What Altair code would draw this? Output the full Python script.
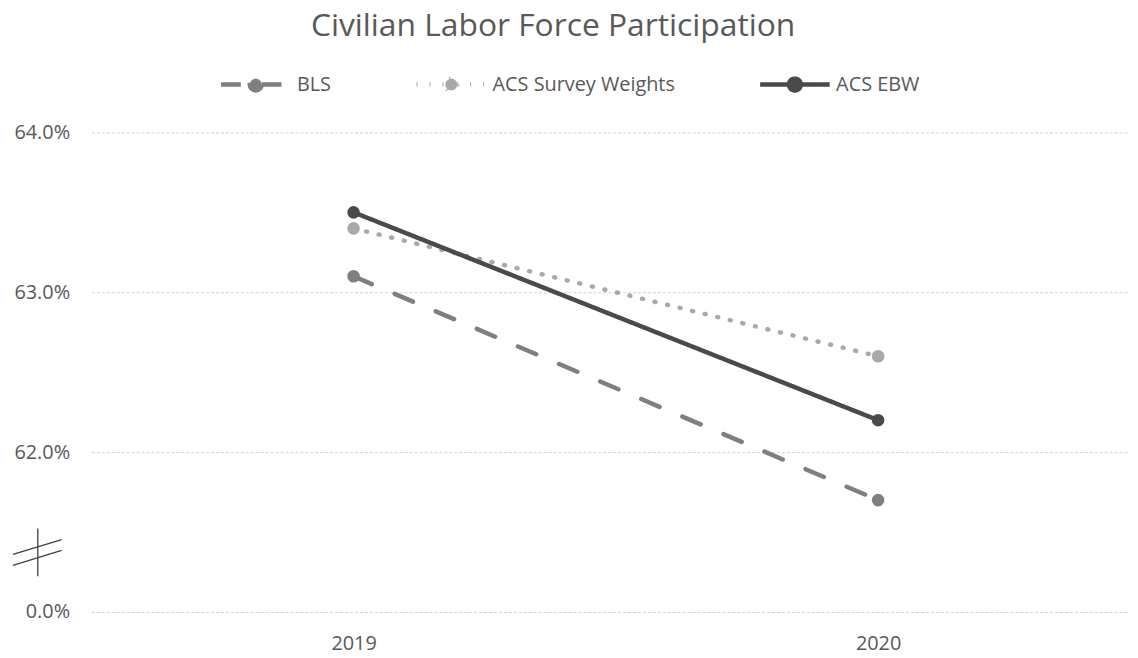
import altair as alt
import pandas as pd

# ---- data ----
years = ["2019", "2020"]
series = ["BLS", "ACS Survey Weights", "ACS EBW"]
bls = [63.1, 61.7]
acs_survey_weights = [63.4, 62.6]
acs_ebw = [63.5, 62.2]
y_ticks = [61, 62, 63, 64]          # 61 is shown as the broken-axis "0.0%" level
y_break_label = "0.0%"
title_text = "Civilian Labor Force Participation"

# ---- styles ----
colors = ["#7f7f7f", "#a9a9a9", "#4a4a4a"]
dashes = [[20, 25], [1, 12], [1, 0]]
FONT = "Open Sans"
TEXT = "#595959"
GRID = "#cfcdf0"

rows = []
for name, vals in zip(series, [bls, acs_survey_weights, acs_ebw]):
    for yr, v in zip(years, vals):
        rows.append({"year": yr, "series": name, "value": v})
df = pd.DataFrame(rows)

W, H = 1046, 483
sym = "M-1,0L-0.17,0M0.17,0L1,0M0.17,0A0.17,0.17,0,1,1,-0.17,0A0.17,0.17,0,1,1,0.17,0Z"

legend = alt.Legend(
    title=None, orient="none", legendX=128, legendY=-86, direction="horizontal",
    symbolType=sym, symbolSize=4900, symbolStrokeWidth=4.5,
    labelFont=FONT, labelFontSize=20, labelColor=TEXT, labelLimit=0,
    columnPadding=76, labelOffset=4,
)

x = alt.X(
    "year:N", sort=years, title=None,
    scale=alt.Scale(type="point", domain=years, padding=0.49, align=0.51),
    axis=alt.Axis(labelFont=FONT, labelFontSize=20, labelColor=TEXT, labelAngle=0,
                  domain=False, ticks=False, labelPadding=22, grid=False),
)
y = alt.Y(
    "value:Q", title=None,
    scale=alt.Scale(domain=[y_ticks[0], y_ticks[-1]], zero=False, nice=False),
    axis=alt.Axis(values=y_ticks, labelFont=FONT, labelFontSize=20, labelColor=TEXT,
                  domain=False, ticks=False, labelPadding=22,
                  labelExpr=f"datum.value == {y_ticks[0]} ? '{y_break_label}' : format(datum.value / 100, '.1%')",
                  grid=True, gridColor=GRID, gridDash=[3, 2], gridWidth=1),
)
color = alt.Color("series:N", sort=series,
                  scale=alt.Scale(domain=series, range=colors), legend=legend)
dash = alt.StrokeDash("series:N", sort=series,
                      scale=alt.Scale(domain=series, range=dashes), legend=legend)

base = alt.Chart(df)
points = base.mark_point(filled=True, size=160, opacity=1).encode(x=x, y=y, color=color)
lines = base.mark_line(strokeWidth=4.5, strokeCap="round").encode(
    x=x, y=y, color=color, strokeDash=dash, detail="series:N")

brk = alt.Chart(pd.DataFrame({"k": [0]}))
brk_color = "#404040"
vbar = brk.mark_rule(color=brk_color, strokeWidth=1.3).encode(
    x=alt.value(-54), y=alt.value(399), y2=alt.value(447))
s1 = brk.mark_rule(color=brk_color, strokeWidth=1.3).encode(
    x=alt.value(-79), x2=alt.value(-30), y=alt.value(425), y2=alt.value(410))
s2 = brk.mark_rule(color=brk_color, strokeWidth=1.3).encode(
    x=alt.value(-79), x2=alt.value(-30), y=alt.value(436), y2=alt.value(421))

chart = alt.layer(lines, points, vbar, s1, s2).properties(
    width=W, height=H,
    autosize=alt.AutoSizeParams(type="none"),
    padding={"left": 84, "top": 123, "right": 0, "bottom": 44},
    title=alt.TitleParams(title_text, font=FONT, fontSize=32, fontWeight="normal",
                          color=TEXT, anchor="middle", frame="group", dx=-58, offset=4),
).configure_view(stroke=None)

chart.save("out.html", embed_options={"renderer": "svg", "actions": False})
